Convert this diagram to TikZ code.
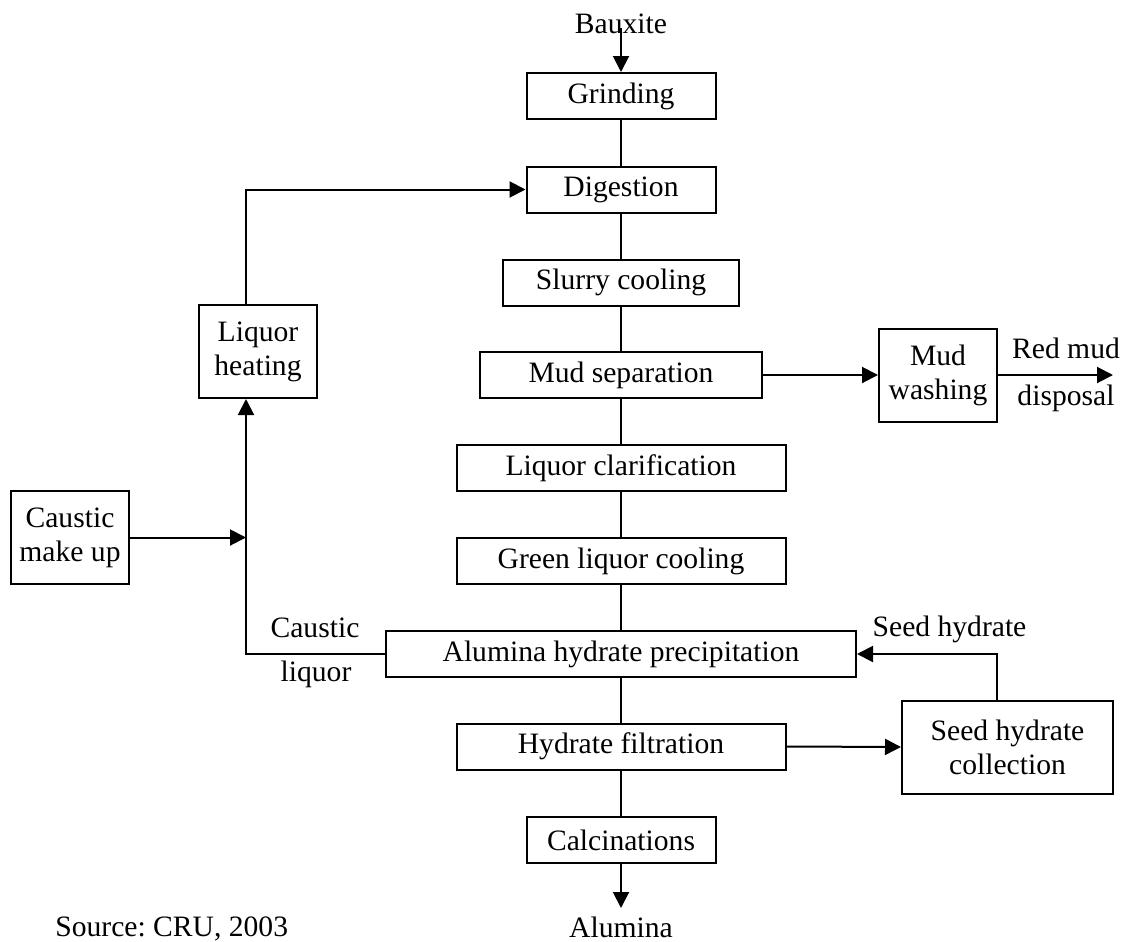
\documentclass[tikz,border=0pt]{standalone}
\usepackage{fontspec}
\setmainfont{Liberation Serif}
\usetikzlibrary{arrows.meta}

\begin{document}
\begin{tikzpicture}[x=0.5pt,y=-0.5pt,
  every node/.style={font=\fontsize{14.8}{17}\selectfont},
  stage/.style={draw,line width=1pt,inner sep=0pt,minimum height=23pt},
  unit/.style={draw,line width=1pt,inner sep=0pt,align=center,minimum width=59pt,minimum height=46.5pt},
  lbl/.style={inner sep=0pt,anchor=base},
  link/.style={line width=1pt},
  flow/.style={line width=1pt,-{Triangle[length=8pt,width=8pt]}}]
\useasboundingbox (0,0) rectangle (1130,942);
% main line of the process
\node[stage,minimum width=94.5pt] (grind) at (621,96) {Grinding};
\node[stage,minimum width=94.5pt] (digest) at (621,189.5) {Digestion};
\node[stage,minimum width=118pt] (slurry) at (621,282.5) {Slurry cooling};
\node[stage,minimum width=141pt] (mudsep) at (621,375) {Mud separation};
\node[stage,minimum width=164.5pt] (clarif) at (621,468) {Liquor clarification};
\node[stage,minimum width=164.5pt] (green) at (621,561) {Green liquor cooling};
\node[stage,minimum width=235pt] (precip) at (621,654) {Alumina hydrate precipitation};
\node[stage,minimum width=164.5pt] (filter) at (621,746.5) {Hydrate filtration};
\node[stage,minimum width=94.5pt] (calcin) at (621,840) {Calcinations};
% side units
\node[unit] (mudwash) at (938,375) {Mud\\washing};
\node[unit,minimum width=105.5pt] (seedcol) at (1007.5,747) {Seed hydrate\\collection};
\node[unit] (heating) at (258,351.5) {Liquor\\heating};
\node[unit] (makeup) at (70,537.5) {Caustic\\make up};
% labels
\node[lbl] (bauxite) at (621,33) {Bauxite};
\node[lbl] (alumina) at (621,937) {Alumina};
\node[lbl] (redmud) at (1066,358) {Red mud};
\node[lbl] (disposal) at (1066,405) {disposal};
\node[lbl] (caustic) at (315,637) {Caustic};
\node[lbl] (liquor) at (316,681) {liquor};
\node[lbl] (seedlbl) at (949.5,636) {Seed hydrate};
\node[lbl,anchor=base west] (source) at (55,936) {\frenchspacing Source: CRU, 2003};
% loose ends
\coordinate (bxtop) at (621,28);
\coordinate (alend) at (621,908);
\coordinate (rmend) at (1113,375);
\coordinate (hx) at (246,0);
\coordinate (sx) at (997,0);
% connectors
\draw[flow] (bxtop) -- (grind);
\foreach \a/\b in {grind/digest,digest/slurry,slurry/mudsep,mudsep/clarif,clarif/green,green/precip,precip/filter,filter/calcin}
  \draw[link] (\a) -- (\b);
\draw[flow] (calcin) -- (alend);
\draw[flow] (mudsep.east) -- (mudwash.west);
\draw[flow] (mudwash.east) -- (rmend);
\draw[flow] (filter.east) -- (seedcol.west);
\draw[flow] (seedcol.north -| sx) |- (precip.east);
\draw[flow] (heating.north -| hx) |- (digest.west);
\draw[flow] (precip.west) -| (heating.south -| hx);
\draw[flow] (makeup.east) -- (makeup.east -| hx);
\end{tikzpicture}
\end{document}
